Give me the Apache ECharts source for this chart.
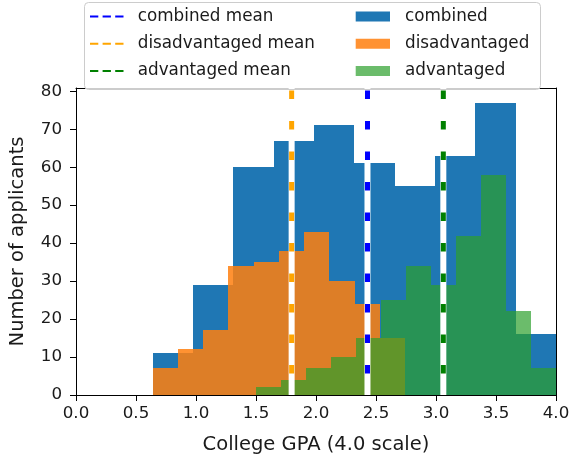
<!DOCTYPE html>
<html>
<head>
<meta charset="utf-8">
<script src="https://cdn.jsdelivr.net/npm/echarts@6/dist/echarts.min.js"></script>
<style>html,body{margin:0;padding:0;background:#fff}#c{width:587px;height:460px}</style>
</head>
<body>
<div id="c"></div>
<script>
// ---- data ----
const combinedEdges = [0.638, 0.974, 1.310, 1.647, 1.983, 2.319, 2.655, 2.991, 3.328, 3.664, 4.0];
const combinedCounts = [11, 29, 60, 67, 71, 61, 55, 63, 77, 16];
const disadvEdges = [0.638, 0.849, 1.059, 1.270, 1.480, 1.691, 1.902, 2.112, 2.323, 2.533, 2.744];
const disadvCounts = [7, 12, 17, 34, 35, 38, 43, 30, 24, 15];
const advEdges = [1.497, 1.706, 1.914, 2.123, 2.332, 2.540, 2.749, 2.958, 3.166, 3.375, 3.583, 3.792, 4.0];
const advCounts = [2, 4, 7, 10, 15, 25, 34, 29, 42, 58, 22, 7];
const meanNames = ['combined mean', 'disadvantaged mean', 'advantaged mean'];
const meanValues = [2.429, 1.797, 3.061];
const histNames = ['combined', 'disadvantaged', 'advantaged'];
const xTicks = [0, 0.5, 1.0, 1.5, 2.0, 2.5, 3.0, 3.5, 4.0];
const yTicks = [0, 10, 20, 30, 40, 50, 60, 70, 80];
const xLimits = [0, 4.0];
const yLimits = [0, 80.85];
const xLabel = 'College GPA (4.0 scale)';
const yLabel = 'Number of applicants';

// ---- styles ----
const FONT = 'DejaVu Sans';
const TXT = '#1a1a1a';
const histColors = ['#1f77b4', '#ff7f0e', '#2ca02c'];
const histAlpha = [1, 0.85, 0.7];
const meanColors = ['blue', 'orange', 'green'];
const dashIcon = 'path://M0 0H8.3V2H0Z M12.6 0H20.9V2H12.6Z M25.2 0H33.5V2H25.2Z';

function binsToData(edges, counts) {
  return counts.map((c, i) => [edges[i], edges[i + 1], c]);
}
function histSeries(name, data, idx) {
  return {
    name: name, type: 'custom', z: 2,
    itemStyle: { color: histColors[idx], opacity: histAlpha[idx] },
    data: data,
    encode: { x: [0, 1], y: 2 },
    renderItem: function (params, api) {
      const p0 = api.coord([api.value(0), api.value(2)]);
      const p1 = api.coord([api.value(1), 0]);
      const x0 = Math.round(p0[0]), x1 = Math.round(p1[0]);
      const y0 = Math.round(p0[1]), y1 = Math.round(p1[1]);
      return {
        type: 'rect',
        shape: { x: x0, y: y0, width: x1 - x0, height: y1 - y0 },
        style: { fill: histColors[idx], opacity: histAlpha[idx] }
      };
    }
  };
}

const series = [
  histSeries(histNames[0], binsToData(combinedEdges, combinedCounts), 0),
  histSeries(histNames[1], binsToData(disadvEdges, disadvCounts), 1),
  histSeries(histNames[2], binsToData(advEdges, advCounts), 2)
];
meanValues.forEach((m, i) => {
  series.push({
    name: 'white_' + i, type: 'line', z: 3, silent: true, symbol: 'none',
    data: [[m, yLimits[0]], [m, yLimits[1]]],
    lineStyle: { color: '#ffffff', width: 6 }
  });
});
meanValues.forEach((m, i) => {
  series.push({
    name: meanNames[i], type: 'line', z: 4, silent: true, symbol: 'none',
    data: [[m, yLimits[0]], [m, yLimits[1]]],
    itemStyle: { color: meanColors[i] },
    lineStyle: { color: meanColors[i], width: 5, type: [8.5, 22], dashOffset: 9 }
  });
});

const legendText = { fontFamily: FONT, fontSize: 16.8, color: TXT, lineHeight: 17 };
const option = {
  animation: false,
  backgroundColor: '#fff',
  grid: { left: 76, right: 31, top: 88, bottom: 60, containLabel: false },
  xAxis: [{
    type: 'value', min: xLimits[0], max: xLimits[1], interval: 0.5, z: 10,
    name: xLabel, nameLocation: 'middle', nameGap: 40,
    nameTextStyle: { fontFamily: FONT, fontSize: 19.5, color: TXT },
    axisLine: { show: true, lineStyle: { color: '#000', width: 1 } },
    axisTick: { show: true, length: 6, lineStyle: { color: '#000' } },
    axisLabel: { fontFamily: FONT, fontSize: 16.7, color: TXT, margin: 10, formatter: v => v.toFixed(1) },
    splitLine: { show: false }
  }, {
    type: 'value', position: 'top', min: xLimits[0], max: xLimits[1], z: 3,
    axisLine: { show: true, onZero: false, lineStyle: { color: '#000', width: 1 } },
    axisTick: { show: false }, axisLabel: { show: false }, splitLine: { show: false }
  }],
  yAxis: [{
    type: 'value', min: yLimits[0], max: yLimits[1], z: 10,
    name: yLabel, nameLocation: 'middle', nameGap: 48, nameRotate: 90,
    nameTextStyle: { fontFamily: FONT, fontSize: 19.5, color: TXT },
    axisLine: { show: true, lineStyle: { color: '#000', width: 1 } },
    axisTick: { show: true, length: 6, customValues: yTicks, lineStyle: { color: '#000' } },
    axisLabel: { fontFamily: FONT, fontSize: 16.7, color: TXT, margin: 14, customValues: yTicks },
    splitLine: { show: false }
  }, {
    type: 'value', position: 'right', min: yLimits[0], max: yLimits[1], z: 10,
    axisLine: { show: true, onZero: false, lineStyle: { color: '#000', width: 1 } },
    axisTick: { show: false }, axisLabel: { show: false }, splitLine: { show: false }
  }],
  graphic: [{
    type: 'rect', z: 100,
    shape: { x: 84.5, y: 2.5, width: 456, height: 87, r: 4 },
    style: { fill: 'rgba(255,255,255,0.8)', stroke: '#cccccc', lineWidth: 1 }
  }],
  legend: [{
    z: 110, orient: 'vertical', left: 90, top: 8, padding: 0, itemGap: 10.2,
    itemWidth: 34, itemHeight: 2,
    data: meanNames.map(n => ({ name: n, icon: dashIcon })),
    textStyle: Object.assign({ padding: [0, 0, 0, 9] }, legendText),
    selectedMode: false
  }, {
    z: 110, orient: 'vertical', left: 355.7, top: 8, padding: 0, itemGap: 10.2,
    itemWidth: 34.3, itemHeight: 10,
    data: histNames.map(n => ({ name: n, icon: 'rect' })),
    textStyle: Object.assign({ padding: [0, 0, 0, 10] }, legendText),
    selectedMode: false
  }],
  series: series
};
const chart = echarts.init(document.getElementById('c'), null, { renderer: 'canvas' });
chart.setOption(option);
</script>
</body>
</html>
